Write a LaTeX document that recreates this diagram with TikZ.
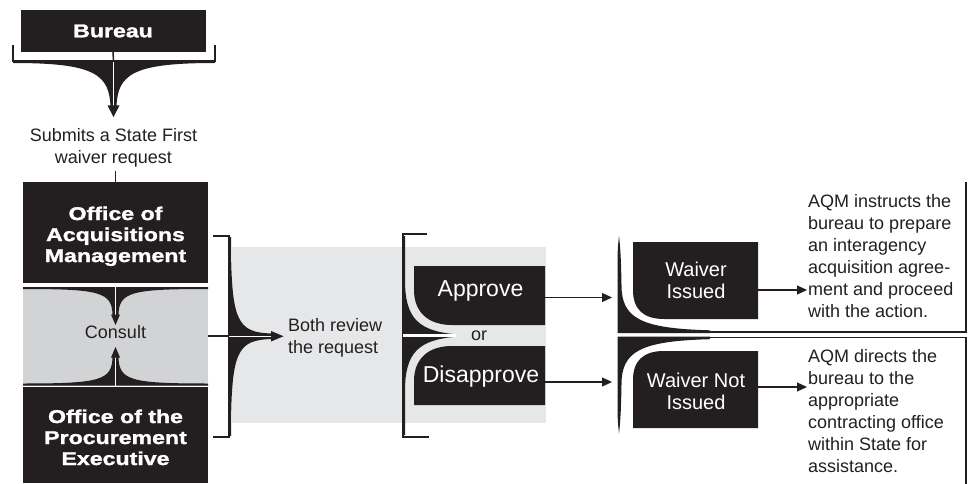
\documentclass[tikz,border=0pt]{standalone}
\usepackage{fontspec}
\setmainfont{Liberation Sans}
\newfontfamily\hdrfont{Liberation Sans}[FakeStretch=1.25,FakeBold=1.5]
\usetikzlibrary{arrows.meta}
\definecolor{ink}{HTML}{231F20}
\definecolor{consultgray}{HTML}{D1D3D4}
\definecolor{panelgray}{HTML}{E6E7E8}
\begin{document}
\begin{tikzpicture}[x=1pt,y=-1pt,
  blackbox/.style={fill=ink, draw=none, inner sep=0pt},
  anchorbox/.style={draw=none, fill=none, inner sep=0pt},
  hdr/.style={text=white, font=\hdrfont\bfseries\fontsize{18.5}{21}\selectfont, align=center, inner sep=0pt},
  body/.style={text=ink, font=\fontsize{18}{22}\selectfont, inner sep=0pt},
  choice/.style={text=white, font=\fontsize{23}{27}\selectfont, inner sep=0pt},
  waiver/.style={text=white, font=\fontsize{20}{21.5}\selectfont, align=center, inner sep=0pt},
  bracket/.style={draw=ink, line width=2pt},
  thinline/.style={draw=ink, line width=1.4pt},
  arr/.style={draw=ink, line width=1.2pt, -{Triangle[length=10pt,width=9pt]}},
]
\useasboundingbox (0,0) rectangle (972,484);

% light panel behind review / decision
\fill[panelgray] (232,247) rectangle (546,423);

% ---------- Bureau ----------
\node[blackbox, hdr, minimum width=185pt, minimum height=42pt] (bureau) at (113,31) {Bureau};
\draw[bracket] (13,45) -- (13,61.5) -- (215,61.5) -- (215,45);
\fill[ink] (13,60.5) -- (215,60.5) -- (215,63)
  .. controls (133,63) and (117.5,74) .. (116.5,107) -- (110.5,107)
  .. controls (109.5,74) and (94,63) .. (13,63) -- cycle;
\coordinate (bbar) at (113.5,61);
\coordinate (btip) at (113.5,117);
\draw[ink, line width=1.5pt] (bureau.south) -- (bbar);
\draw[white, line width=1pt] (113.5,62.5) -- (113.5,106);
\fill[ink] (107.5,105.5) -- (119.5,105.5) -- (btip) -- cycle;

\node[body, align=center] (submits) at (113.5,148) {Submits a State First\\waiver request};

% ---------- Offices ----------
\node[blackbox, minimum width=185pt, minimum height=101pt] (oam) at (115.5,232.5) {};
\node[hdr] (oamtxt) at (115.5,236.3) {Office of\\Acquisitions\\Management};
\coordinate (sub2) at (115.5,171);
\draw[ink, line width=1.5pt] (sub2) -- (oam.north);

\node[fill=consultgray, inner sep=0pt, minimum width=185pt, minimum height=98.5pt] (consultbox) at (115.5,336.25) {};
% top funnel of consult
\fill[ink] (23,287) -- (208,287) -- (208,289)
  .. controls (131,289) and (119,292) .. (118.5,315) -- (112.5,315)
  .. controls (112,292) and (100,289) .. (23,289) -- cycle;
\draw[white, line width=1pt] (115.5,287) -- (115.5,315);
\coordinate (ctip1) at (115.5,325);
\fill[ink] (111,314.5) -- (120,314.5) -- (ctip1) -- cycle;
% bottom funnel of consult
\fill[ink] (23,385.5) -- (208,385.5) -- (208,383.5)
  .. controls (131,383.5) and (119,380.5) .. (118.5,357) -- (112.5,357)
  .. controls (112,380.5) and (100,383.5) .. (23,383.5) -- cycle;
\draw[white, line width=1pt] (115.5,357) -- (115.5,385.5);
\coordinate (ctip2) at (115.5,347);
\fill[ink] (111,357.5) -- (120,357.5) -- (ctip2) -- cycle;
\node[body] (consult) at (115.5,332.5) {Consult};

\node[blackbox, minimum width=185pt, minimum height=96pt] (ope) at (115.5,435) {};
\node[hdr] (opetxt) at (115.5,437.4) {Office of the\\Procurement\\Executive};

% ---------- first bracket ----------
\draw[bracket] (213,236) -- (229,236) -- (229,437) -- (213,437);
\coordinate (br1) at (229,336.25);
\draw[ink, line width=2pt] (consultbox.east) -- (br1);
\fill[ink] (228,237) -- (231,237)
  .. controls (231,322) and (237,332.5) .. (272,333.5) -- (272,339)
  .. controls (237,340) and (231,350.5) .. (231,436) -- (228,436) -- cycle;
\draw[white, line width=1.3pt] (br1) -- (272,336.25);
\coordinate (btip2) at (283.5,336.25);
\fill[ink] (271,331) -- (271,341.5) -- (btip2) -- cycle;

\node[body, align=left, anchor=west] (both) at (288,338) {Both review\\the request};

% ---------- second bracket ----------
\draw[bracket] (427,234) -- (403,234) -- (403,437) -- (429,437);
\fill[ink] (402,236) -- (405,236) -- (405,280)
  .. controls (405,318) and (418,331) .. (456,334.3) -- (402,334.3) -- cycle;
\fill[ink] (402,435) -- (405,435) -- (405,391)
  .. controls (405,353) and (418,340) .. (456,336.7) -- (402,336.7) -- cycle;
\draw[white, line width=2.2pt] (403,335.5) -- (456,335.5);

% approve / disapprove boxes
\fill[ink] (414,266) -- (545,266) -- (545,325) -- (452,325)
  .. controls (428,325) and (414,312) .. (414,290) -- cycle;
\fill[ink] (414,405) -- (545,405) -- (545,346) -- (452,346)
  .. controls (428,346) and (414,359) .. (414,381) -- cycle;
\node[anchorbox, minimum width=131pt, minimum height=59pt] (approve) at (479.5,295.5) {};
\node[anchorbox, minimum width=131pt, minimum height=59pt] (disapprove) at (479.5,375.5) {};
\node[choice, anchor=base] (approvetxt) at (480.5,296.7) {Approve};
\node[choice, anchor=base] (disapprovetxt) at (481,382.3) {Disapprove};
\node[body, anchor=base] (or) at (479,340) {or};

\coordinate (wtip1) at (612,297.5);
\coordinate (wtip2) at (612,382);
\draw[arr] ([yshift=-2pt]approve.east) -- (wtip1);
\draw[arr] ([yshift=-6.5pt]disapprove.east) -- (wtip2);

% ---------- right side ----------
\draw[thinline] (966,182) -- (966,332) -- (618,332);
\draw[thinline] (618,337.5) -- (966,337.5) -- (966,484);
% upper funnel
\fill[ink] (617.5,333) -- (617.5,262) .. controls (617.5,248) and (618.5,241) .. (619,236)
  .. controls (620,245) and (621,255) .. (621.5,285)
  .. controls (621.5,318) and (640,328.5) .. (710,330.3) -- (710,333) -- cycle;
% lower funnel
\fill[ink] (617.5,336.5) -- (617.5,407.5) .. controls (617.5,421.5) and (618.5,428.5) .. (619,433.5)
  .. controls (620,424.5) and (621,414.5) .. (621.5,384.5)
  .. controls (621.5,351.5) and (640,341) .. (710,339.2) -- (710,336.5) -- cycle;

% waiver boxes
\fill[ink] (633,242) -- (758,242) -- (758,319) -- (664,319)
  .. controls (643,319) and (633,309) .. (633,290) -- cycle;
\fill[ink] (633,428) -- (758,428) -- (758,351) -- (664,351)
  .. controls (643,351) and (633,361) .. (633,380) -- cycle;
\node[anchorbox, minimum width=125pt, minimum height=77pt] (issued) at (695.5,280.5) {};
\node[anchorbox, minimum width=125pt, minimum height=77pt] (notissued) at (695.5,389.5) {};
\node[waiver] (issuedtxt) at (696,280.5) {Waiver\\Issued};
\node[waiver] (notissuedtxt) at (696,391.5) {Waiver Not\\Issued};

\coordinate (rt1) at (807,290);
\coordinate (rt2) at (807,387);
\draw[arr] ([yshift=-9.5pt]issued.east) -- (rt1);
\draw[arr] ([yshift=2.5pt]notissued.east) -- (rt2);

\node[body, align=left, anchor=west] (result1) at (808,256.5)
  {AQM instructs the\\bureau to prepare\\an interagency\\acquisition agree-\\ment and proceed\\with the action.};
\node[body, align=left, anchor=west] (result2) at (808,411.5)
  {AQM directs the\\bureau to the\\appropriate\\contracting office\\within State for\\assistance.};
\end{tikzpicture}
\end{document}
